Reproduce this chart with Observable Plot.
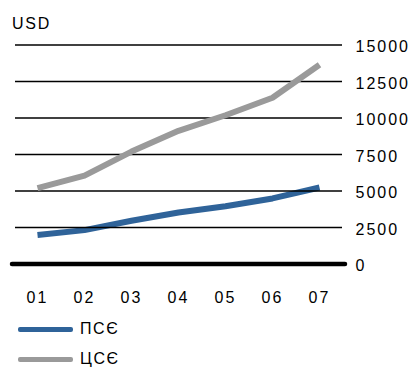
<!DOCTYPE html>
<html>
<head>
<meta charset="utf-8">
<script src="https://cdn.jsdelivr.net/npm/d3@7"></script>
<script src="https://cdn.jsdelivr.net/npm/@observablehq/plot@0.6"></script>
<style>
  html, body { margin: 0; padding: 0; background: #fff; }
  #wrap { position: relative; width: 417px; height: 368px; overflow: hidden;
          font-family: "Liberation Sans", Arial, sans-serif; color: #000; }
  #wrap svg text { letter-spacing: 2px; }
  #unit { position: absolute; left: 12px; top: 15px; font-size: 16px; letter-spacing: 1.8px; }
  #chart { position: absolute; left: 0; top: 0; }
  .key { position: absolute; left: 18px; height: 20px; display: flex; align-items: center;
         font-size: 16px; letter-spacing: 1.6px; }
  .key i { display: inline-block; width: 55px; height: 5px; border-radius: 2px; margin-right: 7px; }
</style>
</head>
<body>
<div id="wrap">
  <div id="chart"></div>
  <div id="unit">USD</div>
  <div id="legend"></div>
</div>
<script>
// Years on the horizontal axis
const years = ["01", "02", "03", "04", "05", "06", "07"];
// Series values, USD
const pseValues = [1980, 2320, 2960, 3530, 3960, 4490, 5240];
const cseValues = [5200, 6050, 7700, 9120, 10190, 11390, 13650];
// Labels on the value axis
const yTicks = [0, 2500, 5000, 7500, 10000, 12500, 15000];
// Series names and colours
const seriesNames = ["ПСЄ", "ЦСЄ"];
const seriesColors = ["#2f6399", "#9a9a9a"];

const pse = years.map((year, i) => ({year, value: pseValues[i]}));
const cse = years.map((year, i) => ({year, value: cseValues[i]}));

const chart = Plot.plot({
  width: 417,
  height: 312,
  marginLeft: 15,
  marginRight: 75,
  marginTop: 40,
  marginBottom: 44,
  x: {type: "point", domain: years, range: [37, 319], padding: 0, axis: null},
  y: {domain: [0, 15000], range: [263.5, 44.5], axis: null},
  style: {fontFamily: "'Liberation Sans', Arial, sans-serif", fontSize: "16px", color: "#000", background: "transparent", overflow: "visible"},
  marks: [
    Plot.line(pse, {x: "year", y: "value", stroke: seriesColors[0], strokeWidth: 6, strokeLinecap: "butt"}),
    Plot.ruleY(yTicks.filter(d => d > 0), {stroke: "#000", strokeWidth: 1.6}),
    Plot.line(cse, {x: "year", y: "value", stroke: seriesColors[1], strokeWidth: 6, strokeLinecap: "butt"}),
    Plot.ruleY([0], {stroke: "#000", strokeWidth: 4.5, insetLeft: -3, insetRight: -3, strokeLinecap: "round"}),
    Plot.axisY(yTicks, {anchor: "right", tickSize: 0, tickPadding: 13, dy: 2, textAnchor: "start", tickFormat: d => String(d), fill: "#000", label: null}),
    Plot.axisX(years, {anchor: "bottom", tickSize: 0, tickPadding: 23, fill: "#000", label: null})
  ]
});
document.getElementById("chart").appendChild(chart);

// Legend under the chart
const legend = document.getElementById("legend");
const keyTops = [319, 349];
seriesNames.forEach((name, i) => {
  const row = document.createElement("div");
  row.className = "key";
  row.style.top = keyTops[i] + "px";
  const sw = document.createElement("i");
  sw.style.background = seriesColors[i];
  row.appendChild(sw);
  row.appendChild(document.createTextNode(name));
  legend.appendChild(row);
});
</script>
</body>
</html>
